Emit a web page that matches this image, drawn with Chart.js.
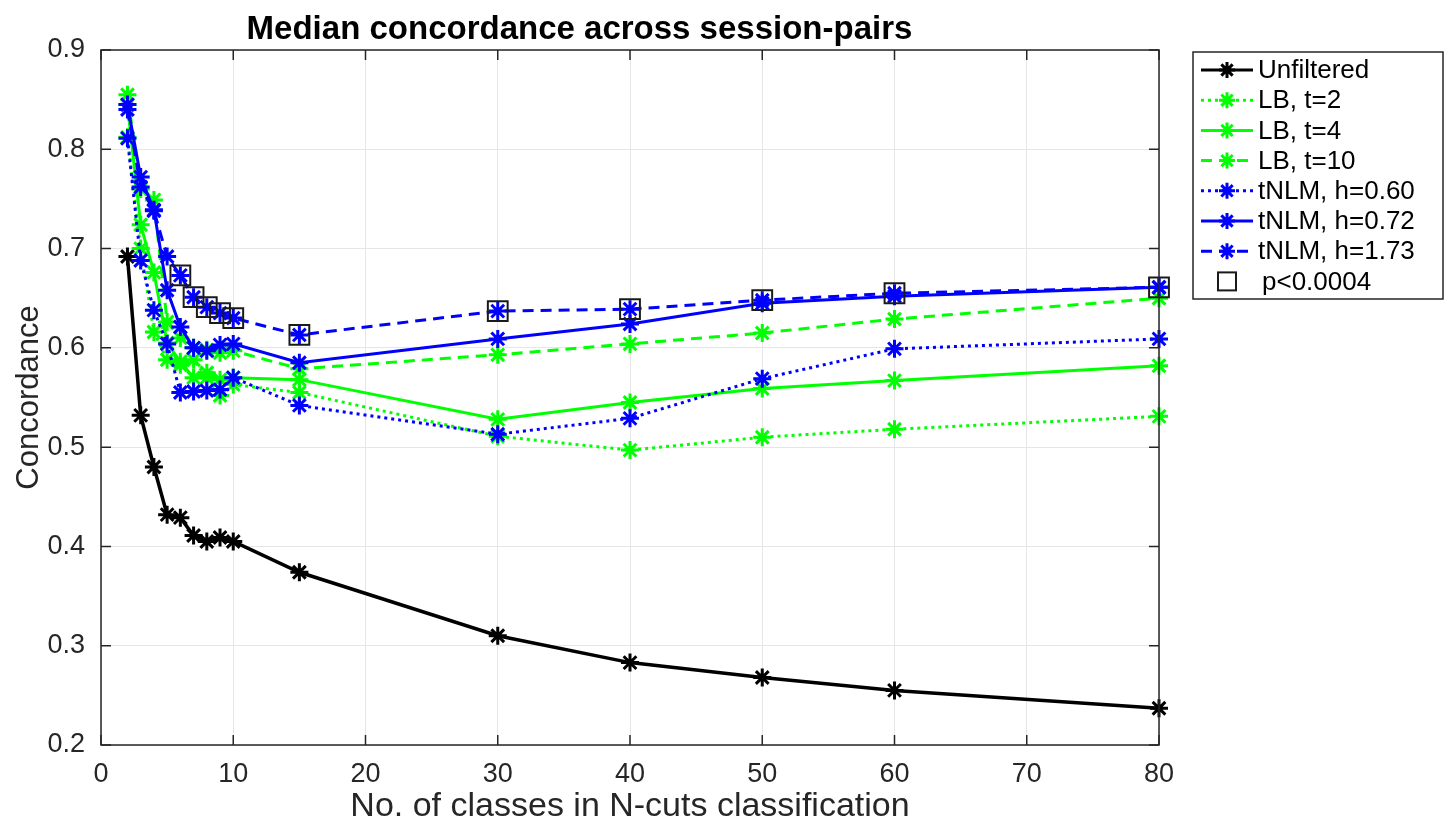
<!DOCTYPE html>
<html>
<head>
<meta charset="utf-8">
<script src="https://cdn.jsdelivr.net/npm/chart.js@4.4.0/dist/chart.umd.min.js"></script>
<style>
  html, body { margin:0; padding:0; background:#fff; }
  #wrap { width:1450px; height:826px; }
</style>
</head>
<body>
<div id="wrap"><canvas id="ch-concordance"></canvas></div>
<script>
// ---- data ----
const nClasses   = [2, 3, 4, 5, 6, 7, 8, 9, 10, 15, 30, 40, 50, 60, 80];
const unfiltered = [0.692, 0.532, 0.480, 0.432, 0.429, 0.411, 0.405, 0.409, 0.405, 0.374, 0.310, 0.283, 0.268, 0.255, 0.237];
const lbT2       = [0.812, 0.700, 0.616, 0.588, 0.583, 0.588, 0.570, 0.552, 0.563, 0.555, 0.511, 0.497, 0.510, 0.518, 0.531];
const lbT4       = [0.845, 0.724, 0.676, 0.605, 0.586, 0.570, 0.575, 0.568, 0.570, 0.568, 0.528, 0.545, 0.559, 0.567, 0.582];
const lbT10      = [0.855, 0.760, 0.749, 0.626, 0.610, 0.600, 0.598, 0.595, 0.597, 0.579, 0.593, 0.604, 0.615, 0.629, 0.650];
const tnlm060    = [0.811, 0.688, 0.638, 0.604, 0.555, 0.556, 0.557, 0.558, 0.570, 0.542, 0.513, 0.529, 0.569, 0.599, 0.609];
const tnlm072    = [0.845, 0.772, 0.739, 0.658, 0.621, 0.600, 0.597, 0.603, 0.604, 0.585, 0.609, 0.624, 0.645, 0.652, 0.661];
const tnlm173    = [0.840, 0.762, 0.738, 0.692, 0.673, 0.651, 0.641, 0.635, 0.630, 0.613, 0.637, 0.639, 0.648, 0.655, 0.661];
const pSig       = [0, 0, 0, 0, 1, 1, 1, 1, 1, 1, 1, 1, 1, 1, 1]; // p<0.0004 on tNLM h=1.73
const seriesNames = ['Unfiltered', 'LB, t=2', 'LB, t=4', 'LB, t=10', 'tNLM, h=0.60', 'tNLM, h=0.72', 'tNLM, h=1.73'];
const xTicks = [0, 10, 20, 30, 40, 50, 60, 70, 80];
const yTicks = [0.2, 0.3, 0.4, 0.5, 0.6, 0.7, 0.8, 0.9];

const FONT = '"Liberation Sans", Arial, Helvetica, sans-serif';
const DOT = [3, 4], DASH = [11, 7];
const styles = [
  { color:'#000000', dash:[] },
  { color:'#00ff00', dash:DOT },
  { color:'#00ff00', dash:[] },
  { color:'#00ff00', dash:DASH },
  { color:'#0000ff', dash:DOT },
  { color:'#0000ff', dash:[] },
  { color:'#0000ff', dash:DASH }
];
const allSeries = [unfiltered, lbT2, lbT4, lbT10, tnlm060, tnlm072, tnlm173];

const toPts = ys => nClasses.map((x, i) => ({ x: x, y: ys[i] }));

const datasets = allSeries.map((ys, i) => ({
  label: seriesNames[i],
  data: toPts(ys),
  borderColor: styles[i].color,
  backgroundColor: styles[i].color,
  borderDash: styles[i].dash,
  borderWidth: i === 0 ? 3.5 : 3,
  pointStyle: 'star',
  pointRadius: 9,
  pointBorderWidth: 3,
  pointBorderColor: styles[i].color,
  tension: 0,
  clip: false,
  order: 20 - i
}));
datasets.push({
  label: 'p<0.0004',
  data: nClasses.map((x, i) => pSig[i] ? { x: x, y: tnlm173[i] } : null).filter(Boolean),
  showLine: false,
  pointStyle: 'rect',
  pointRadius: 14,
  pointBorderWidth: 2,
  pointBorderColor: '#1a1a1a',
  pointBackgroundColor: 'rgba(0,0,0,0)',
  clip: false,
  order: 0
});

// frame with inward ticks (MATLAB style box)
const boxPlugin = {
  id: 'box',
  afterDatasetsDraw(chart) {
    const { ctx, chartArea: a, scales: { x, y } } = chart;
    ctx.save();
    ctx.strokeStyle = '#262626';
    ctx.lineWidth = 1.5;
    ctx.setLineDash([]);
    ctx.strokeRect(a.left, a.top, a.right - a.left, a.bottom - a.top);
    ctx.beginPath();
    xTicks.forEach(v => {
      const px = x.getPixelForValue(v);
      ctx.moveTo(px, a.bottom); ctx.lineTo(px, a.bottom - 10);
      ctx.moveTo(px, a.top);    ctx.lineTo(px, a.top + 10);
    });
    yTicks.forEach(v => {
      const py = y.getPixelForValue(v);
      ctx.moveTo(a.left, py);  ctx.lineTo(a.left + 10, py);
      ctx.moveTo(a.right, py); ctx.lineTo(a.right - 10, py);
    });
    ctx.stroke();
    ctx.restore();
  }
};

// legend box drawn on the canvas, line sample + marker like MATLAB
const legendPlugin = {
  id: 'matLegend',
  afterDraw(chart) {
    const ctx = chart.ctx;
    const L = 1193, T = 52, R = 1443, B = 299;
    ctx.save();
    ctx.fillStyle = '#fff';
    ctx.fillRect(L, T, R - L, B - T);
    ctx.strokeStyle = '#262626';
    ctx.lineWidth = 1.5;
    ctx.strokeRect(L, T, R - L, B - T);
    ctx.font = '26px ' + FONT;
    ctx.textBaseline = 'middle';
    ctx.textAlign = 'left';
    const rowY = i => 70 + i * 30.2;
    seriesNames.forEach((name, i) => {
      const yy = rowY(i), c = styles[i].color;
      ctx.strokeStyle = c;
      ctx.lineWidth = 3;
      ctx.setLineDash(styles[i].dash);
      ctx.beginPath(); ctx.moveTo(1201, yy); ctx.lineTo(1253, yy); ctx.stroke();
      ctx.setLineDash([]);
      ctx.lineWidth = 3;
      Chart.helpers.drawPoint(ctx, { pointStyle:'star', radius:8, borderWidth:3 }, 1227, yy);
      ctx.fillStyle = '#000';
      ctx.fillText(name, 1258, yy + 1);
    });
    const yy = rowY(7);
    ctx.strokeStyle = '#1a1a1a';
    ctx.lineWidth = 2;
    ctx.strokeRect(1218, yy - 9, 18, 18);
    ctx.fillStyle = '#000';
    ctx.fillText('p<0.0004', 1262, yy + 1);
    ctx.restore();
  }
};

new Chart(document.getElementById('ch-concordance'), {
  type: 'line',
  data: { datasets: datasets },
  plugins: [boxPlugin, legendPlugin],
  options: {
    responsive: true,
    maintainAspectRatio: false,
    animation: false,
    layout: { padding: { left: 0, right: 291, top: 0, bottom: 0 } },
    plugins: {
      legend: { display: false },
      tooltip: { enabled: false },
      title: {
        display: true,
        text: 'Median concordance across session-pairs',
        color: '#000',
        font: { family: FONT, size: 33, weight: 'bold', lineHeight: 1.2 },
        padding: { top: 10, bottom: 0.4 }
      }
    },
    scales: {
      x: {
        type: 'linear', min: 0, max: 80,
        afterBuildTicks: s => { s.ticks = xTicks.map(v => ({ value: v })); },
        afterFit: s => { s.height = 81; },
        grid: { color: '#e6e6e6', lineWidth: 1, drawTicks: false },
        border: { display: false },
        ticks: { color: '#262626', padding: 13, font: { family: FONT, size: 27 }, maxRotation: 0 },
        title: { display: true, text: 'No. of classes in N-cuts classification', color: '#262626',
                 font: { family: FONT, size: 34, lineHeight: 1.1 }, padding: { top: 0, bottom: 1 } }
      },
      y: {
        type: 'linear', min: 0.2, max: 0.9,
        afterBuildTicks: s => { s.ticks = yTicks.map(v => ({ value: v })); },
        afterFit: s => { s.width = 101; },
        grid: { color: '#e6e6e6', lineWidth: 1, drawTicks: false },
        border: { display: false },
        ticks: { color: '#262626', padding: 16, font: { family: FONT, size: 27 }, callback: v => v.toFixed(1) },
        title: { display: true, text: 'Concordance', color: '#262626',
                 font: { family: FONT, size: 31 }, padding: { top: 11, bottom: 0 } }
      }
    }
  }
});
</script>
</body>
</html>
